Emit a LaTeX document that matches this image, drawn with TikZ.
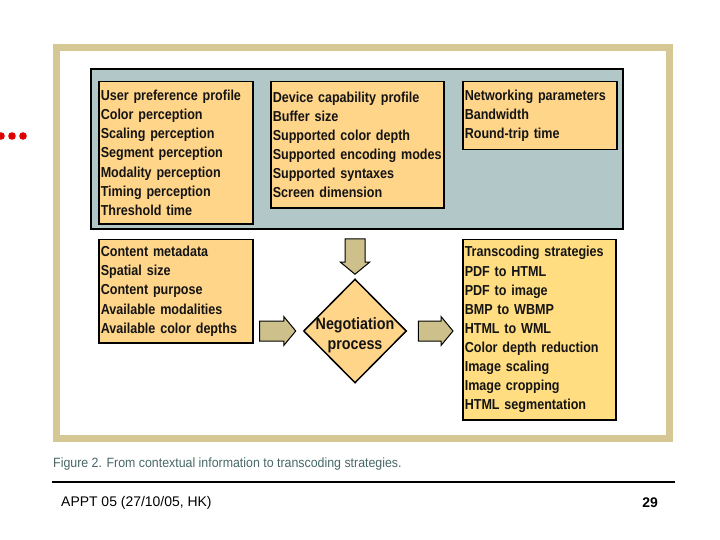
\documentclass[tikz,border=0pt]{standalone}
\usepackage{fontspec}
\setmainfont{Liberation Sans}
\newfontfamily\condfont[FakeStretch=0.87]{Liberation Sans}
\newfontfamily\capfont[FakeStretch=0.92]{Liberation Sans}
\usetikzlibrary{shapes.geometric,calc}
\definecolor{frametan}{RGB}{214,200,148}
\definecolor{arrowtan}{RGB}{206,192,138}
\definecolor{panelblue}{RGB}{178,200,200}
\definecolor{boxfill}{RGB}{255,213,138}
\definecolor{boxfillb}{RGB}{255,221,128}
\definecolor{captext}{RGB}{72,104,104}
\definecolor{dotred}{RGB}{225,0,0}
\tikzset{
  infobox/.style={draw=black, line width=1.5bp, fill=boxfill, anchor=north west,
    inner xsep=2bp, inner ysep=0pt, align=left, text=black!92,
    font=\condfont\bfseries\fontsize{14.5}{19.2}\selectfont},
  blockarr/.style={fill=arrowtan, draw=black, line width=1bp, line join=miter},
  negtext/.style={align=center, font=\condfont\bfseries\fontsize{16.5}{20}\selectfont, text=black!92}
}
\newcommand\blockarrow[3]{%
  \coordinate (#1b) at ($(#3)!12bp!(#2)$);
  \filldraw[blockarr] ($(#2)!10bp!90:(#3)$) -- ($(#1b)!10bp!90:(#3)$) --
    ($(#1b)!14.5bp!90:(#3)$) -- (#3) -- ($(#1b)!14.5bp!-90:(#3)$) --
    ($(#1b)!10bp!-90:(#3)$) -- ($(#2)!10bp!-90:(#3)$) -- cycle;
}
\begin{document}
\begin{tikzpicture}[x=1bp,y=-1bp]
\useasboundingbox (0,0) rectangle (720,540);
\fill[white] (0,0) rectangle (720,540);
% red dots
\foreach \dx in {1,12,23} \fill[dotred] (\dx,136) circle (3.8bp);
% frame
\draw[frametan, line width=7bp] (56.5,47.5) rectangle (669.5,438.5);
% panel
\draw[fill=panelblue, draw=black, line width=2bp] (91,69) rectangle (623,229);
\node[infobox, text width=150bp, minimum height=142bp] (user) at (98,81)
 {User preference profile\\Color perception\\Scaling perception\\Segment perception\\Modality perception\\Timing perception\\Threshold time};
\node[infobox, text width=169bp, minimum height=126bp] (device) at (270,81)
 {Device capability profile\\Buffer size\\Supported color depth\\Supported encoding modes\\Supported syntaxes\\Screen dimension};
\node[infobox, text width=150bp, minimum height=68bp] (net) at (462,81)
 {Networking parameters\\Bandwidth\\Round-trip time};
\node[infobox, text width=150bp, minimum height=103bp] (content) at (98,239)
 {Content metadata\\Spatial size\\Content purpose\\Available modalities\\Available color depths};
\node[infobox, fill=boxfillb, text width=149bp, minimum height=180bp] (trans) at (462,239)
 {Transcoding strategies\\PDF to HTML\\PDF to image\\BMP to WBMP\\HTML to WML\\Color depth reduction\\Image scaling\\Image cropping\\HTML segmentation};
% negotiation diamond
\node[diamond, draw=black, line width=1.5bp, fill=boxfill, inner sep=0pt,
      minimum width=103bp, minimum height=104bp] (neg) at (355,331) {};
\node[negtext] (negt) at (355,335) {Negotiation\\process};
% arrows
\coordinate (dnS) at (neg.north |- content.north);
\coordinate (dnT) at ($(neg.north)+(0,-4)$);
\coordinate (ltS) at ($(content.east |- neg.center)+(6,0)$);
\coordinate (ltT) at ($(neg.west)+(-7,0)$);
\coordinate (rtS) at ($(neg.east)+(11,0)$);
\coordinate (rtT) at ($(trans.west |- neg.center)+(-9,0)$);
\blockarrow{dn}{dnS}{dnT}
\blockarrow{lt}{ltS}{ltT}
\blockarrow{rt}{rtS}{rtT}
% caption and footer
\node[anchor=west, inner sep=0pt, text=captext, font=\capfont\fontsize{13.5}{15}\selectfont] (cap) at (53,464)
 {Figure 2. From contextual information to transcoding strategies.};
\coordinate (ruleL) at (52,482);
\coordinate (ruleR) at (675,482);
\draw[line width=2bp] (ruleL) -- (ruleR);
\node[anchor=west, inner sep=0pt, font=\fontsize{14}{16}\selectfont] (foot) at (61,503) {APPT 05 (27/10/05, HK)};
\node[anchor=east, inner sep=0pt, font=\bfseries\fontsize{14}{16}\selectfont] (page) at (658,503) {29};
\end{tikzpicture}
\end{document}
